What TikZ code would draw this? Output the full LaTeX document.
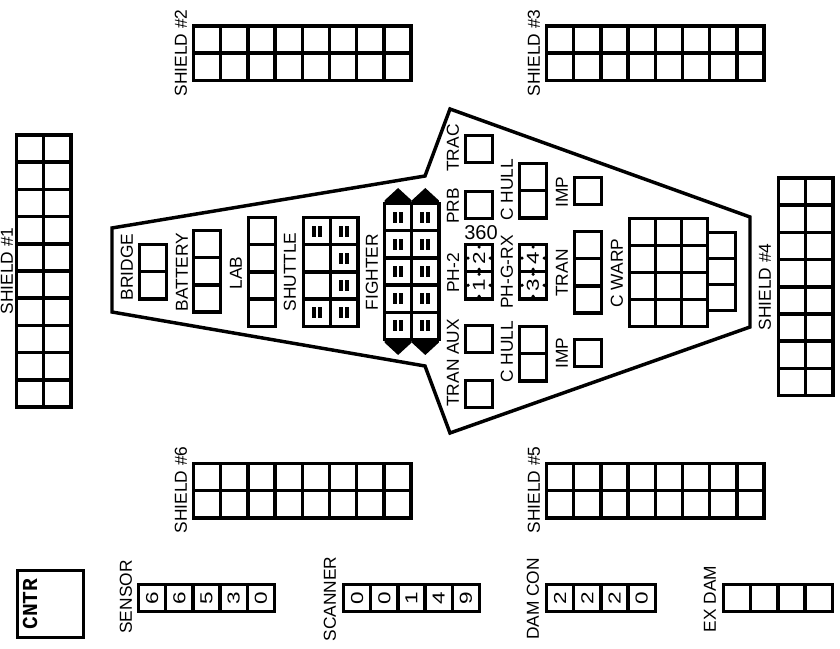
\documentclass[tikz,border=0pt]{standalone}
\usepackage{fontspec}
\usepackage{tikz}
\usetikzlibrary{calc}
\newfontfamily\ssdfont{Liberation Sans}
\newfontfamily\ssdnum[FakeStretch=1.3]{Liberation Sans}
\newfontfamily\ssdbold{Liberation Mono Bold}
\tikzset{
	cell/.style={draw=black, line width=2.6pt, line cap=rect, line join=miter},
	lab/.style={rotate=90, inner sep=0pt, font=\fontsize{13}{13}\ssdfont},
	num/.style={rotate=90, inner sep=0pt, font=\fontsize{13}{13}\ssdnum}
}
% x y cols rows
\newcommand{\gridbox}[4]{%
	\foreach \i in {1,...,#3}
		\foreach \j in {1,...,#4}
			\draw[cell] ({#1+(\i-1)*27.2},{#2+(\j-1)*27.2}) rectangle +(27.2,27.2);
}
% x y of a cell
\newcommand{\barmark}[2]{%
	\fill ({#1+13.6-5},{#2+8.1}) rectangle +(4,11);
	\fill ({#1+13.6+1},{#2+8.1}) rectangle +(4,11);
}
% x y of a cell
\newcommand{\dotmark}[2]{%
	\foreach \dx/\dy in {2.5/13.6,24.7/13.6,13.6/2.5,13.6/24.7}
		\fill ({#1+\dx},{#2+\dy}) circle (1.8);
}
\begin{document}
\begin{tikzpicture}[x=0.75pt, y=-0.75pt]
	\useasboundingbox (0,0) rectangle (840,649);
	\coordinate (H1) at (112,228);
	\coordinate (H2) at (425,176);
	\coordinate (H3) at (450,109);
	\coordinate (H4) at (750,217);
	\coordinate (H5) at (750,327);
	\coordinate (H6) at (450,433);
	\coordinate (H7) at (425,366);
	\coordinate (H8) at (112,312);
	\draw[line width=2.6pt, line join=miter] (H1)--(H2)--(H3)--(H4)--(H5)--(H6)--(H7)--(H8)--cycle;
	% shields
	\gridbox{16.5}{135}{2}{10}
	\gridbox{193.5}{26}{8}{2}
	\gridbox{546.5}{26}{8}{2}
	\gridbox{778.5}{178}{2}{8}
	\gridbox{546.5}{463.5}{8}{2}
	\gridbox{193.5}{463.5}{8}{2}
	\node[lab] (shieldA) at (7,271) {SHIELD \#1};
	\node[lab] (shieldB) at (181,53) {SHIELD \#2};
	\node[lab] (shieldC) at (534,53) {SHIELD \#3};
	\node[lab] (shieldD) at (765,287) {SHIELD \#4};
	\node[lab] (shieldE) at (534,490) {SHIELD \#5};
	\node[lab] (shieldF) at (181,490) {SHIELD \#6};
	% front of the hull
	\gridbox{139.5}{244.5}{1}{2}
	\gridbox{193.5}{230.5}{1}{3}
	\gridbox{248.5}{217.5}{1}{4}
	\gridbox{303.5}{217.5}{2}{4}
	\node[lab] (bridge) at (127,267) {BRIDGE};
	\node[lab] (battery) at (182,272) {BATTERY};
	\node[lab] (lab) at (236,273) {LAB};
	\node[lab] (shuttle) at (290,272) {SHUTTLE};
	\barmark{303.5}{217.5}
	\barmark{303.5}{299.1}
	\foreach \j in {0,...,3} {
		\barmark{330.7}{217.5+\j*27.2}
	}
	% fighters
	\gridbox{384.5}{203.5}{2}{5}
	\foreach \i in {0,1} {
		\foreach \j in {0,...,4} {
			\barmark{384.5+\i*27.2}{203.5+\j*27.2}
		}
		\fill ({384.5+\i*27.2},203.5) -- ++(0,-3) -- ++(13.6,-12.5) -- ++(13.6,12.5) -- ++(0,3) -- cycle;
		\fill ({384.5+\i*27.2},339.5) -- ++(0,3) -- ++(13.6,12.5) -- ++(13.6,-12.5) -- ++(0,-3) -- cycle;
	}
	\node[lab] (fighter) at (372,272) {FIGHTER};
	% middle
	\gridbox{465.5}{135.5}{1}{1}
	\gridbox{465.5}{191.5}{1}{1}
	\gridbox{465.5}{325.5}{1}{1}
	\gridbox{465.5}{380.5}{1}{1}
	\node[lab] (trac) at (453,148) {TRAC};
	\node[lab] (prb) at (453,206) {PRB};
	\node[lab] (aux) at (453,337) {AUX};
	\node[lab] (tranb) at (453,383) {TRAN};
	\gridbox{519.5}{163.5}{1}{2}
	\gridbox{519.5}{326.5}{1}{2}
	\node[lab] (hulla) at (507,190) {C HULL};
	\node[lab] (hullb) at (507,352) {C HULL};
	\gridbox{574.5}{177.5}{1}{1}
	\gridbox{574.5}{339.5}{1}{1}
	\node[lab] (impa) at (562,192) {IMP};
	\node[lab] (impb) at (562,353) {IMP};
	% phasers
	\gridbox{465.5}{244.5}{1}{2}
	\gridbox{519.5}{244.5}{1}{2}
	\dotmark{465.5}{244.5}
	\dotmark{465.5}{271.7}
	\dotmark{519.5}{244.5}
	\dotmark{519.5}{271.7}
	\node[num] (ph1) at (479,285) {1};
	\node[num] (ph2) at (479,258) {2};
	\node[num] (ph3) at (533,285) {3};
	\node[num] (ph4) at (533,258) {4};
	\node[inner sep=0pt, font=\fontsize{15}{15}\ssdfont] (arc) at (481,233) {360};
	\node[lab] (pha) at (453,273) {PH-2};
	\node[lab] (phb) at (507,272) {PH-G-RX};
	% rear
	\gridbox{574.5}{231.5}{1}{3}
	\node[lab] (tran) at (562,273) {TRAN};
	\foreach \i in {0,1,2}
		\foreach \j in {0,...,3}
			\draw[cell] ({629.5+\i*26},{218.5+\j*27}) rectangle +(26,27);
	\foreach \j in {0,1,2}
		\draw[cell] ({707.5},{232.5+\j*26}) rectangle +(28,26);
	\node[lab] (warp) at (617,273) {C WARP};
	% tracks
	\draw[cell] (17.5,570.5) rectangle (83.5,637.5);
	\node[rotate=90, inner sep=0pt, font=\fontsize{16}{16}\ssdbold] (cntr) at (30,604) {CNTR};
	\gridbox{138.5}{584.5}{5}{1}
	\gridbox{343.5}{584.5}{5}{1}
	\gridbox{546.5}{584.5}{4}{1}
	\gridbox{723.5}{584.5}{4}{1}
	\node[lab] (sensor) at (126,597) {SENSOR};
	\node[lab] (scanner) at (330,599) {SCANNER};
	\node[lab] (damcon) at (533,599) {DAM CON};
	\node[lab] (exdam) at (710,599) {EX DAM};
	\foreach \i/\v in {0/6,1/6,2/5,3/3,4/0}
		\node[num] (sens\i) at ({152.1+\i*27.2},598) {\v};
	\foreach \i/\v in {0/0,1/0,2/1,3/4,4/9}
		\node[num] (scan\i) at ({357.1+\i*27.2},598) {\v};
	\foreach \i/\v in {0/2,1/2,2/2,3/0}
		\node[num] (dam\i) at ({560.1+\i*27.2},598) {\v};
\end{tikzpicture}
\end{document}
